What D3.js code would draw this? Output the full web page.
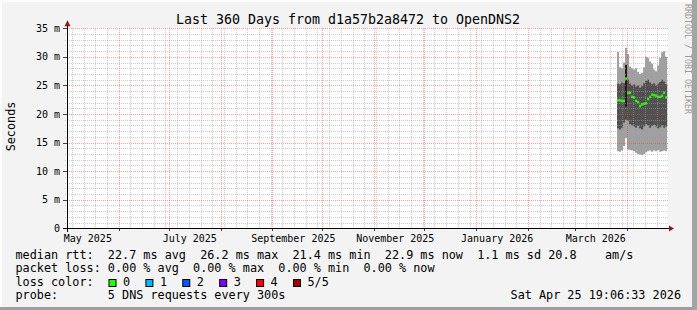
<!DOCTYPE html>
<html lang="en">
<head>
<meta charset="UTF-8">
<script src="https://d3js.org/d3.v7.min.js"></script>
<style>
  body { margin: 0; background: #f3f3f3; }
  svg { display: block; }
  text { font-family: "DejaVu Sans Mono", monospace; fill: #000; white-space: pre; }
</style>
</head>
<body>
<svg id="chart" width="697" height="310"></svg>
<script>
// ---- data ----
const graphEnd = new Date(2026, 3, 25, 19, 6, 33);
const spanDays = 360;
const firstStamp = new Date(2026, 2, 26, 7, 0, 0);   // first rrd column with data
const stepHours = 28.8;                               // one column = 1.2 days

// smoke layers, ms
const maxRtt = [30.9, 28.2, 28.0, 29.0, 31.6, 30.5, 28.3, 28.0, 27.8, 28.0, 27.4, 27.0, 27.2,
                28.2, 30.0, 29.8, 29.2, 28.8, 27.8, 27.5, 28.5, 29.8, 30.8, 31.0, 30.0];
const hiRtt  = [25.3, 25.2, 25.5, 25.4, 26.8, 26.0, 25.3, 25.0, 25.2, 24.8, 25.0, 24.6, 24.9,
                25.4, 25.8, 26.0, 25.5, 25.2, 25.4, 25.0, 25.3, 25.6, 26.0, 25.7, 25.2];
const medRtt = [22.4, 22.4, 22.3, 22.3, 26.2, 23.7, 23.7, 23.0, 22.9, 22.3, 22.1, 21.4, 21.7,
                21.8, 21.9, 22.6, 23.0, 23.4, 23.3, 23.2, 23.0, 23.0, 23.2, 23.7, 22.9];
const loRtt  = [17.5, 17.3, 17.6, 18.5, 19.0, 18.8, 18.2, 18.0, 17.8, 17.6, 17.9, 17.5, 17.3,
                17.8, 18.2, 18.0, 17.6, 17.9, 18.1, 17.8, 17.5, 17.7, 18.0, 17.6, 17.8];
const minRtt = [13.5, 13.4, 13.6, 14.4, 15.8, 13.8, 13.7, 13.6, 13.5, 13.2, 13.0, 12.9, 12.8,
                13.0, 13.3, 13.5, 13.6, 13.4, 13.6, 13.5, 13.7, 13.4, 13.5, 13.6, 13.5];
// darkest inner smoke, only one column has it
const coreHi = [null, null, null, null, 28.6, null, null, null, null, null, null, null, null,
                null, null, null, null, null, null, null, null, null, null, null, null];
const coreLo = [null, null, null, null, 21.3, null, null, null, null, null, null, null, null,
                null, null, null, null, null, null, null, null, null, null, null, null];
const lossCount = [0, 0, 0, 0, 0, 0, 0, 0, 0, 0, 0, 0, 0, 0, 0, 0, 0, 0, 0, 0, 0, 0, 0, 0, 0];

const yTicks = [0, 5, 10, 15, 20, 25, 30, 35];
const yMax = 35;

const lossLabels = ["0", "1", "2", "3", "4", "5/5"];
const lossColors = ["#26ff00", "#00b8ff", "#0059ff", "#7e00ff", "#ff0000", "#a10000"];

const rttStats  = ["22.7 ms avg", "26.2 ms max", "21.4 ms min", "22.9 ms now", "1.1 ms sd"];
const amsStat   = "20.8";
const lossStats = ["0.00 % avg", "0.00 % max", "0.00 % min", "0.00 % now"];

const title = "Last 360 Days from d1a57b2a8472 to OpenDNS2";
const probeText = "5 DNS requests every 300s";
const stampText = "Sat Apr 25 19:06:33 2026";

// ---- layout ----
const W = 697, H = 310;
const plot = { left: 66.5, right: 668, top: 28.3, bottom: 228.3 };

const svg = d3.select("#chart");

// background + bevel
svg.append("rect").attr("width", W).attr("height", H).attr("fill", "#f3f3f3");
svg.append("rect").attr("x", 0).attr("y", 0).attr("width", W).attr("height", 2).attr("fill", "#fcfcfc");
svg.append("rect").attr("x", 0).attr("y", 0).attr("width", 2).attr("height", H).attr("fill", "#fcfcfc");
svg.append("rect").attr("x", 0).attr("y", H - 3).attr("width", W).attr("height", 3).attr("fill", "#9e9e9e");
svg.append("rect").attr("x", W - 5).attr("y", 0).attr("width", 5).attr("height", H).attr("fill", "#a4a4a4");

const start = d3.timeDay.offset(graphEnd, -spanDays);
const x = d3.scaleTime().domain([start, graphEnd]).range([plot.left, plot.right]);
const y = d3.scaleLinear().domain([0, yMax]).range([plot.bottom, plot.top]);

// canvas
svg.append("rect")
    .attr("x", plot.left).attr("y", plot.top)
    .attr("width", plot.right - plot.left).attr("height", plot.bottom - plot.top)
    .attr("fill", "#ffffff");

// rows
const stepMs = stepHours * 3600 * 1000;
const rows = maxRtt.map((v, i) => ({
    t: new Date(+firstStamp + i * stepMs),
    t1: new Date(+firstStamp + (i + 1) * stepMs),
    max: v, hi: hiRtt[i], med: medRtt[i], lo: loRtt[i], min: minRtt[i],
    cHi: coreHi[i], cLo: coreLo[i], loss: lossCount[i]
}));
const stepped = [...rows, { ...rows[rows.length - 1], t: rows[rows.length - 1].t1 }];

const band = (lo, hi) => d3.area()
    .curve(d3.curveStepAfter)
    .x(d => x(d.t))
    .y0(d => y(d[lo]))
    .y1(d => y(d[hi]));

const data = svg.append("g");
data.append("path").datum(stepped).attr("d", band("min", "max")).attr("fill", "#a0a0a0");
data.append("path").datum(stepped).attr("d", band("lo", "hi")).attr("fill", "#515151");

data.selectAll(".core")
    .data(rows.filter(d => d.cHi != null))
    .enter().append("rect")
    .attr("class", "core")
    .attr("x", d => x(d.t)).attr("width", d => x(d.t1) - x(d.t))
    .attr("y", d => y(d.cHi)).attr("height", d => y(d.cLo) - y(d.cHi))
    .attr("fill", "#1c1c1c");

// median "blobs" coloured by loss
data.selectAll(".med")
    .data(rows)
    .enter().append("rect")
    .attr("class", "med")
    .attr("x", d => x(d.t)).attr("width", d => x(d.t1) - x(d.t))
    .attr("y", d => y(d.med) - 1.25).attr("height", 2.5)
    .attr("fill", d => lossColors[d.loss]);

// grid (drawn over the smoke, like rrdtool)
const grid = svg.append("g").attr("shape-rendering", "crispEdges");
const px = v => Math.round(v) + 0.5;

const minorY = d3.range(1, yMax).filter(v => v % 5 !== 0);
grid.selectAll(".ymin").data(minorY).enter().append("line")
    .attr("x1", plot.left - 2).attr("x2", plot.right)
    .attr("y1", d => px(y(d))).attr("y2", d => px(y(d)))
    .attr("stroke", "rgba(160,160,160,0.55)").attr("stroke-dasharray", "1,1");

const weeks = d3.timeSunday.range(start, graphEnd).filter(d => d.getDate() !== 1);
grid.selectAll(".xmin").data(weeks).enter().append("line")
    .attr("x1", d => px(x(d))).attr("x2", d => px(x(d)))
    .attr("y1", plot.top).attr("y2", plot.bottom + 2)
    .attr("stroke", "rgba(160,160,160,0.55)").attr("stroke-dasharray", "1,1");

grid.selectAll(".ymaj").data(yTicks.filter(v => v > 0)).enter().append("line")
    .attr("x1", plot.left).attr("x2", plot.right)
    .attr("y1", d => px(y(d))).attr("y2", d => px(y(d)))
    .attr("stroke", "rgba(235,70,70,0.5)").attr("stroke-dasharray", "1,1");

const months = d3.timeMonth.range(start, graphEnd);
grid.selectAll(".xmaj").data(months).enter().append("line")
    .attr("x1", d => px(x(d))).attr("x2", d => px(x(d)))
    .attr("y1", plot.top).attr("y2", plot.bottom)
    .attr("stroke", "rgba(235,70,70,0.5)").attr("stroke-dasharray", "1,1");

// tick marks
grid.selectAll(".ytk").data(yTicks).enter().append("line")
    .attr("x1", plot.left - 4).attr("x2", plot.left)
    .attr("y1", d => px(y(d))).attr("y2", d => px(y(d)))
    .attr("stroke", "#444");
grid.selectAll(".xtk").data(months).enter().append("line")
    .attr("x1", d => px(x(d))).attr("x2", d => px(x(d)))
    .attr("y1", plot.bottom).attr("y2", plot.bottom + 3)
    .attr("stroke", "#444");

// axes
grid.append("line")
    .attr("x1", plot.left - 4).attr("x2", plot.right + 2)
    .attr("y1", px(plot.bottom)).attr("y2", px(plot.bottom))
    .attr("stroke", "#000");
grid.append("line")
    .attr("x1", px(plot.left)).attr("x2", px(plot.left))
    .attr("y1", plot.bottom + 4).attr("y2", plot.top - 4)
    .attr("stroke", "#000");
const ax = px(plot.left), ay = px(plot.bottom);
svg.append("path")
    .attr("d", `M${ax},${plot.top - 8}L${ax - 3},${plot.top - 2}L${ax + 3},${plot.top - 2}Z`)
    .attr("fill", "#8e1b1b");
svg.append("path")
    .attr("d", `M${plot.right + 6},${ay}L${plot.right + 1},${ay - 3}L${plot.right + 1},${ay + 3}Z`)
    .attr("fill", "#8e1b1b");

// y labels
svg.selectAll(".ylab").data(yTicks).enter().append("text")
    .attr("x", 60).attr("y", d => y(d) + 3.6)
    .attr("text-anchor", "end").attr("font-size", "10px")
    .text(d => d === 0 ? "0" : d + " m");

// x labels, every second month, shifted into the month like rrdtool
const labelMonths = d3.timeMonth.every(2).range(start, graphEnd);
const fmtMonth = d3.timeFormat("%B %Y");
svg.selectAll(".xlab").data(labelMonths).enter().append("text")
    .attr("x", d => x(d) + 21).attr("y", 242)
    .attr("text-anchor", "middle").attr("font-size", "10px")
    .text(d => fmtMonth(d));

svg.append("text")
    .attr("transform", "translate(15,126.5) rotate(-90)")
    .attr("text-anchor", "middle").attr("font-size", "11.8px")
    .text("Seconds");

svg.append("text")
    .attr("x", 348).attr("y", 23.5)
    .attr("text-anchor", "middle").attr("font-size", "13.3px")
    .text(title);

svg.append("text")
    .attr("transform", "translate(685,4) rotate(90)")
    .attr("font-size", "8.3px").style("fill", "#9a9a9a")
    .text("RRDTOOL / TOBI OETIKER");

// legend
const lx = 15.5, lfs = "11.8px";
const legendRows = [
    "median rtt:  " + rttStats.join("  ") + " " + amsStat + "    am/s",
    "packet loss: " + lossStats.join("  "),
    "loss color:",
    "probe:       " + probeText
];
svg.selectAll(".leg").data(legendRows).enter().append("text")
    .attr("x", lx).attr("y", (d, i) => 258.5 + i * 13.5)
    .attr("font-size", lfs)
    .text(d => d);

const boxes = svg.selectAll(".lbox").data(lossLabels).enter().append("g")
    .attr("transform", (d, i) => `translate(${108.5 + i * 36.9},0)`);
boxes.append("rect")
    .attr("x", 0.5).attr("y", 279.5).attr("width", 7).attr("height", 7)
    .attr("fill", (d, i) => lossColors[i]).attr("stroke", "#000");
boxes.append("text")
    .attr("x", 14.5).attr("y", 285.5).attr("font-size", lfs)
    .text(d => d);

svg.append("text")
    .attr("x", 681).attr("y", 299).attr("text-anchor", "end").attr("font-size", lfs)
    .text(stampText);
</script>
</body>
</html>
